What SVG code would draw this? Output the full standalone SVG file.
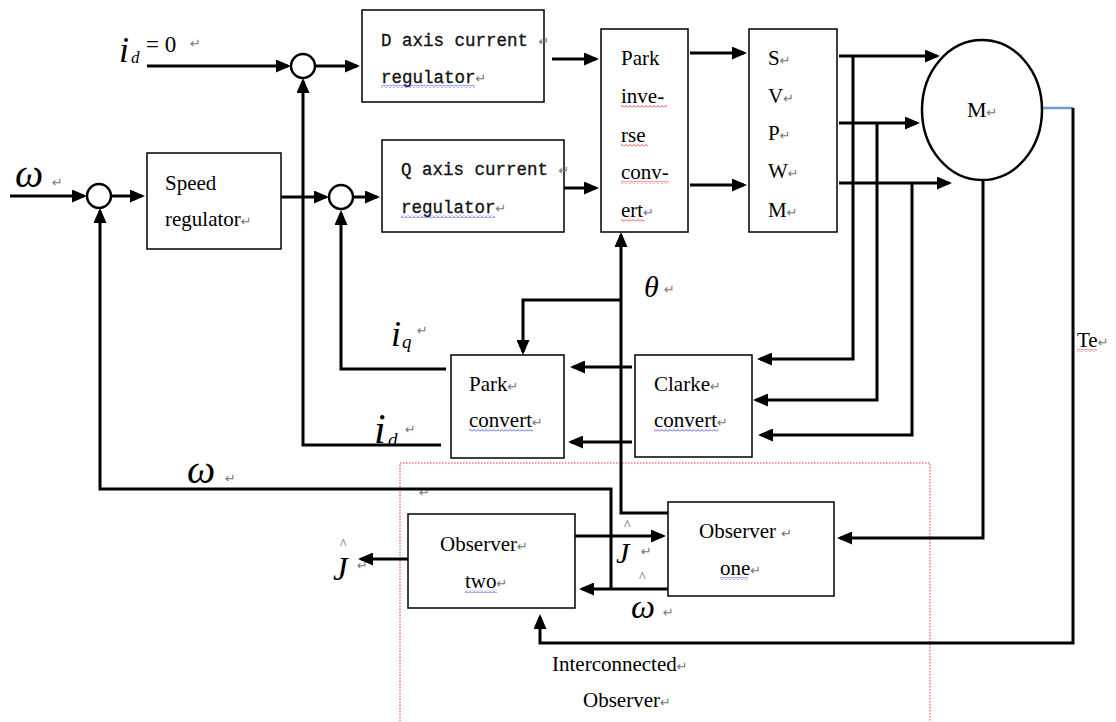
<svg xmlns="http://www.w3.org/2000/svg" width="1116" height="722" viewBox="0 0 1116 722">
<defs>
<marker id="ah" markerUnits="userSpaceOnUse" markerWidth="15" markerHeight="13" refX="12" refY="6.5" orient="auto"><path d="M0,0 L15,6.5 L0,13 z" fill="#000"/></marker>
<pattern id="wr" patternUnits="userSpaceOnUse" width="4" height="3"><path d="M0,2.5 L2,0.5 L4,2.5" fill="none" stroke="#e02020" stroke-width="0.8"/></pattern>
<pattern id="wb" patternUnits="userSpaceOnUse" width="4" height="3"><path d="M0,2.5 L2,0.5 L4,2.5" fill="none" stroke="#2030e0" stroke-width="0.8"/></pattern>
</defs>
<style>
.box{fill:#fff;stroke:#000;stroke-width:1.5}
.ln{fill:none;stroke:#000;stroke-width:3}
.ar{marker-end:url(#ah)}
.sum{fill:#fff;stroke:#000;stroke-width:2.5}
.t{font-family:"Liberation Serif",serif;font-size:21px;fill:#000}
.mono{font-family:"Liberation Mono",monospace;font-size:17.5px;fill:#111;stroke:#111;stroke-width:0.3}
.mi{font-family:"Liberation Serif",serif;font-style:italic;fill:#000}
.pm{font-family:"DejaVu Sans",sans-serif;font-size:13px;fill:#777;stroke:none;font-style:normal}
.hat{font-family:"Liberation Serif",serif;font-size:14px;fill:#555}
.wr{fill:url(#wr)}
.wb{fill:url(#wb)}
</style>
<rect width="1116" height="722" fill="#fff"/>

<g id="observer-region">
<rect x="400" y="463" width="530" height="280" fill="none" stroke="#f03030" stroke-width="1" stroke-dasharray="1.5,1.5"/>
<text class="t" x="552" y="671">Interconnected<tspan class="pm">↵</tspan></text>
<text class="t" x="583" y="707">Observer<tspan class="pm">↵</tspan></text>
<text class="pm" x="419" y="497">↵</text>
</g>

<g id="connectors">
<path class="ln ar" d="M147,66 H288"/>
<path class="ln ar" d="M315,66 H357"/>
<path class="ln ar" d="M10,196 H84"/>
<path class="ln ar" d="M111,196 H142"/>
<path class="ln ar" d="M281,197 H326"/>
<path class="ln ar" d="M353,197 H377"/>
<path class="ln ar" d="M552,59 H596"/>
<path class="ln ar" d="M562,188 H596"/>
<path class="ln ar" d="M690,53 H744"/>
<path class="ln ar" d="M690,185 H744"/>
<path class="ln ar" d="M839,56 H937"/>
<path class="ln ar" d="M839,123 H917"/>
<path class="ln ar" d="M839,183 H949"/>
<path class="ln ar" d="M853,56 V359 H760"/>
<path class="ln ar" d="M877,123 V400 H756"/>
<path class="ln ar" d="M912,183 V435 H761"/>
<path class="ln ar" d="M983,180 V538 H840"/>
<path d="M1042,108 H1073" fill="none" stroke="#6d9dd0" stroke-width="2.5"/>
<path class="ln ar" d="M1073,108 V643 H540 V617"/>
<path class="ln ar" d="M632,367 H573"/>
<path class="ln ar" d="M632,442 H571"/>
<path class="ln ar" d="M446,369 H341 V213"/>
<path class="ln ar" d="M441,445 H303 V81"/>
<path class="ln ar" d="M611,589 V489 H100 V211"/>
<path class="ln ar" d="M668,589 H582"/>
<path class="ln ar" d="M575,536 H663"/>
<path class="ln ar" d="M408,559 H361"/>
<path class="ln ar" d="M668,513 H621 V235"/>
<path class="ln ar" d="M621,300 H523 V352"/>
</g>

<g id="sum-d"><circle class="sum" cx="303" cy="66" r="12"/></g>
<g id="sum-speed"><circle class="sum" cx="99" cy="196" r="12"/></g>
<g id="sum-q"><circle class="sum" cx="341" cy="197" r="12"/></g>

<g id="speed-regulator">
<rect class="box" x="147" y="153" width="134" height="96"/>
<text class="t" x="165" y="190">Speed</text>
<text class="t" x="165" y="226">regulator<tspan class="pm">↵</tspan></text>
</g>

<g id="d-axis-regulator">
<rect class="box" x="362" y="10" width="182" height="92"/>
<text class="mono" x="381" y="46">D axis current <tspan class="pm">↵</tspan></text>
<text class="mono" x="381" y="83">regulator<tspan class="pm">↵</tspan></text>
<rect class="wb" x="381" y="85" width="94" height="3"/>
</g>

<g id="q-axis-regulator">
<rect class="box" x="382" y="140" width="182" height="92"/>
<text class="mono" x="401" y="175">Q axis current <tspan class="pm">↵</tspan></text>
<text class="mono" x="401" y="213">regulator<tspan class="pm">↵</tspan></text>
<rect class="wb" x="401" y="215" width="94" height="3"/>
</g>

<g id="park-inverse">
<rect class="box" x="601" y="29" width="87" height="203"/>
<text class="t" x="621" y="65">Park</text>
<text class="t" x="621" y="103">inve-</text>
<text class="t" x="621" y="142">rse</text>
<text class="t" x="621" y="179">conv-</text>
<text class="t" x="621" y="217">ert<tspan class="pm">↵</tspan></text>
<rect class="wr" x="621" y="105" width="46" height="3"/>
<rect class="wr" x="621" y="144" width="27" height="3"/>
<rect class="wr" x="621" y="181" width="48" height="3"/>
<rect class="wr" x="621" y="219" width="24" height="3"/>
</g>

<g id="svpwm">
<rect class="box" x="749" y="29" width="88" height="203"/>
<text class="t" x="768" y="65">S<tspan class="pm">↵</tspan></text>
<text class="t" x="768" y="103">V<tspan class="pm">↵</tspan></text>
<text class="t" x="768" y="140">P<tspan class="pm">↵</tspan></text>
<text class="t" x="768" y="178">W<tspan class="pm">↵</tspan></text>
<text class="t" x="768" y="217">M<tspan class="pm">↵</tspan></text>
</g>

<g id="motor">
<ellipse cx="982" cy="110" rx="60" ry="70" fill="#fff" stroke="#000" stroke-width="2.5"/>
<text class="t" x="967" y="117" style="font-size:22px">M<tspan class="pm">↵</tspan></text>
</g>

<g id="park-convert">
<rect class="box" x="451" y="355" width="113" height="103"/>
<text class="t" x="469" y="391">Park<tspan class="pm">↵</tspan></text>
<text class="t" x="469" y="427">convert<tspan class="pm">↵</tspan></text>
<rect class="wb" x="469" y="429" width="64" height="3"/>
</g>

<g id="clarke-convert">
<rect class="box" x="635" y="355" width="117" height="102"/>
<text class="t" x="654" y="391">Clarke<tspan class="pm">↵</tspan></text>
<text class="t" x="654" y="427">convert<tspan class="pm">↵</tspan></text>
<rect class="wb" x="654" y="429" width="64" height="3"/>
</g>

<g id="observer-two">
<rect class="box" x="408" y="514" width="167" height="94"/>
<text class="t" x="440" y="551">Observer<tspan class="pm">↵</tspan></text>
<text class="t" x="465" y="588">two<tspan class="pm">↵</tspan></text>
<rect class="wb" x="465" y="590" width="32" height="3"/>
</g>

<g id="observer-one">
<rect class="box" x="668" y="502" width="166" height="94"/>
<text class="t" x="699" y="538">Observer <tspan class="pm">↵</tspan></text>
<text class="t" x="720" y="575">one<tspan class="pm">↵</tspan></text>
<rect class="wb" x="720" y="577" width="28" height="3"/>
</g>

<g id="te-label">
<text class="t" x="1077" y="347">Te<tspan class="pm">↵</tspan></text>
<rect class="wr" x="1077" y="349" width="20" height="3"/>
</g>

<g id="labels">
<text class="mi" x="119" y="62" style="font-size:36px">i</text>
<text class="mi" x="131" y="63" style="font-size:17px">d</text>
<text class="t" x="146" y="52" style="font-size:23px">= 0</text>
<text class="pm" x="190" y="48">↵</text>

<text class="mi" x="15" y="187" style="font-size:40px">ω</text>
<text class="pm" x="52" y="187">↵</text>

<text class="mi" x="391" y="346" style="font-size:36px">i</text>
<text class="mi" x="402" y="348" style="font-size:19px">q</text>
<text class="pm" x="417" y="335">↵</text>

<text class="mi" x="374" y="443" style="font-size:42px">i</text>
<text class="mi" x="388" y="446" style="font-size:19px">d</text>
<text class="pm" x="405" y="434">↵</text>

<text class="mi" x="187" y="483" style="font-size:40px">ω</text>
<text class="pm" x="225" y="483">↵</text>

<text class="mi" x="644" y="297" style="font-size:30px">θ</text>
<text class="pm" x="664" y="294">↵</text>

<text class="hat" x="340" y="549">^</text>
<text class="mi" x="333" y="580" style="font-size:33px">J</text>
<text class="pm" x="357" y="570">↵</text>

<text class="hat" x="624" y="530">^</text>
<text class="mi" x="616" y="563" style="font-size:30px">J</text>
<text class="pm" x="641" y="556">↵</text>

<text class="hat" x="639" y="582">^</text>
<text class="mi" x="631" y="618" style="font-size:34px">ω</text>
<text class="pm" x="663" y="617">↵</text>
</g>
</svg>
